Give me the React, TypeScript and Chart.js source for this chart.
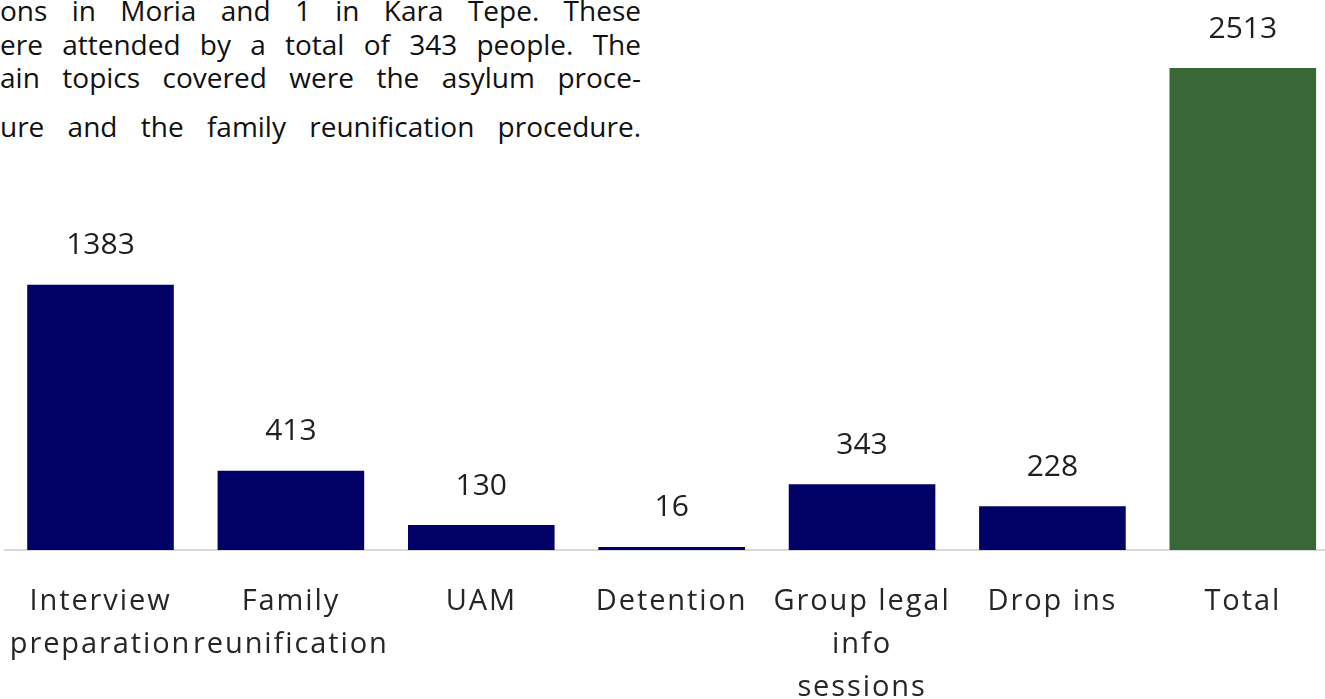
import React, { useEffect, useRef } from "react";
import { Chart, registerables } from "chart.js";

Chart.register(...registerables);

const categories: (string | string[])[] = [
  ["Interview", "preparation"],
  ["Family", "reunification"],
  "UAM",
  "Detention",
  ["Group legal", "info", "sessions"],
  "Drop ins",
  "Total",
];
const values: number[] = [1383, 413, 130, 16, 343, 228, 2513];
const barColors: string[] = ["#000066", "#000066", "#000066", "#000066", "#000066", "#000066", "#376835"];
const paragraphLines: string[] = [
  "ons in Moria and 1 in Kara Tepe. These",
  "ere attended by a total of 343 people. The",
  "ain topics covered were the asylum proce-",
  "ure and the family reunification procedure.",
];
const paragraphTops: number[] = [-6, 28, 61, 110];

const FONT = "'Open Sans', 'Noto Sans', sans-serif";

const tickSpacing = {
  id: "tickSpacing",
  beforeDraw(chart: any) {
    (chart.ctx as any).letterSpacing = "1.9px";
  },
  afterDraw(chart: any) {
    (chart.ctx as any).letterSpacing = "0px";
  },
};

const valueLabels = {
  id: "valueLabels",
  afterDatasetsDraw(chart: any) {
    const ctx = chart.ctx;
    const meta = chart.getDatasetMeta(0);
    ctx.save();
    (ctx as any).letterSpacing = "0px";
    ctx.font = `30px ${FONT}`;
    ctx.fillStyle = "#1f1f1f";
    ctx.textAlign = "center";
    ctx.textBaseline = "middle";
    meta.data.forEach((el: any, i: number) => {
      ctx.fillText(String(values[i]), el.x, el.y - 39);
    });
    ctx.restore();
  },
};

export default function App() {
  const ref = useRef<HTMLCanvasElement>(null);
  useEffect(() => {
    if (!ref.current) return;
    const chart = new Chart(ref.current, {
      type: "bar",
      data: {
        labels: categories,
        datasets: [
          {
            data: values,
            backgroundColor: barColors,
            barPercentage: 0.77,
            categoryPercentage: 1,
          },
        ],
      },
      options: {
        animation: false,
        responsive: false,
        maintainAspectRatio: false,
        layout: { padding: { left: 3, right: 2, top: 0, bottom: 0 } },
        plugins: { legend: { display: false }, tooltip: { enabled: false } },
        scales: {
          x: {
            grid: { display: false, drawTicks: false },
            border: { display: true, color: "#d9d9d9", width: 2 },
            ticks: {
              color: "#262626",
              padding: 30,
              maxRotation: 0,
              autoSkip: false,
              font: { family: FONT, size: 29, lineHeight: "43px" as any },
            },
            afterFit: (scale: any) => {
              scale.height = 170;
            },
          },
          y: {
            display: false,
            min: 0,
            max: 2868,
          },
        },
      },
      plugins: [tickSpacing, valueLabels],
    });
    return () => chart.destroy();
  }, []);

  return (
    <div
      style={{
        position: "fixed",
        left: 0,
        top: 0,
        width: 1325,
        height: 699,
        overflow: "hidden",
        background: "#ffffff",
      }}
    >
      {paragraphLines.map((t, i) => (
        <div
          key={i}
          style={{
            position: "absolute",
            left: 0,
            top: paragraphTops[i],
            width: 641,
            fontFamily: FONT,
            fontSize: 28,
            lineHeight: "33px",
            color: "#111111",
            textAlign: "justify",
            textAlignLast: "justify" as any,
            whiteSpace: "nowrap",
          }}
        >
          {t}
        </div>
      ))}
      <div style={{ position: "absolute", left: -10, top: 0, width: 1350, height: 720 }}>
        <canvas ref={ref} width={1350} height={720} style={{ width: 1350, height: 720 }} />
      </div>
    </div>
  );
}
